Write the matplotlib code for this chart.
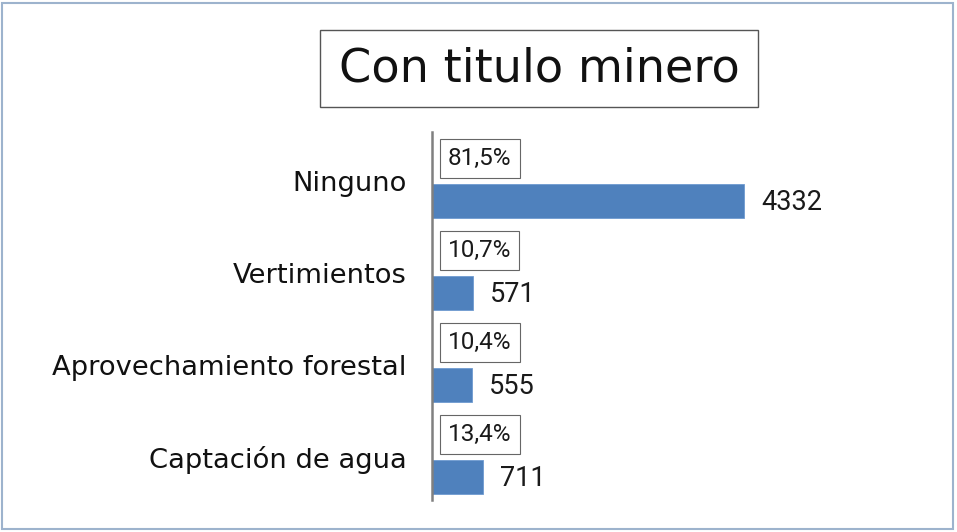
import matplotlib.pyplot as plt
from matplotlib.patches import Rectangle

categorias = ['Ninguno', 'Vertimientos', 'Aprovechamiento forestal', 'Captación de agua']
valores = [4332, 571, 555, 711]
porcentajes = ['81,5%', '10,7%', '10,4%', '13,4%']

W, H = 957, 532


def main():
    fig = plt.figure(figsize=(W / 100, H / 100), dpi=100)

    # marco exterior
    fig.patches.append(Rectangle((2 / W, 3 / H), 951 / W, 526 / H, transform=fig.transFigure,
                                 fill=False, edgecolor='#9db3cd', linewidth=1.5))

    # titulo con recuadro
    fig.patches.append(Rectangle((320 / W, 1 - 107 / H), 438 / W, 77 / H, transform=fig.transFigure,
                                 fill=False, edgecolor='#555555', linewidth=1.0))
    fig.text(539 / W, 1 - 69 / H, 'Con titulo minero', ha='center', va='center',
             fontsize=33.3, family='DejaVu Sans', color='#111111')

    # area de barras
    x0, y_top, y_bot = 432, 132, 500
    ancho = 500
    ax = fig.add_axes([x0 / W, 1 - y_bot / H, ancho / W, (y_bot - y_top) / H])
    escala = 312 / 4332
    ax.set_xlim(0, ancho / escala)
    ax.set_ylim(3.5, -0.5)

    pos = list(range(len(categorias)))
    pos_barras = [p + 0.25 for p in pos]
    ax.barh(pos_barras, valores, height=0.36, color='#4f81bd', edgecolor='#6f9bd0', linewidth=0.6)

    for p, v, pct in zip(pos, valores, porcentajes):
        ax.annotate(str(v), xy=(v, p + 0.27), xytext=(17, 0), textcoords='offset pixels',
                    ha='left', va='center', fontsize=19.5, family='Roboto', color='#1a1a1a')
        ax.annotate(pct, xy=(0, p - 0.21), xytext=(16, 0), textcoords='offset pixels',
                    ha='left', va='center', fontsize=17.5, family='Roboto', color='#1a1a1a',
                    bbox=dict(boxstyle='square,pad=0.33', facecolor='white', edgecolor='#666666', linewidth=0.8))

    ax.set_yticks([p + 0.03 for p in pos])
    ax.set_yticklabels(categorias, fontsize=19.7, family='DejaVu Sans', color='#111111')
    ax.tick_params(axis='y', length=0, pad=18)
    ax.set_xticks([])
    for lado in ['top', 'right', 'bottom']:
        ax.spines[lado].set_visible(False)
    ax.spines['left'].set_color('#808080')
    ax.spines['left'].set_linewidth(1.8)
    ax.patch.set_alpha(0)

    fig.savefig('out.png', dpi=100)


if __name__ == '__main__':
    main()
